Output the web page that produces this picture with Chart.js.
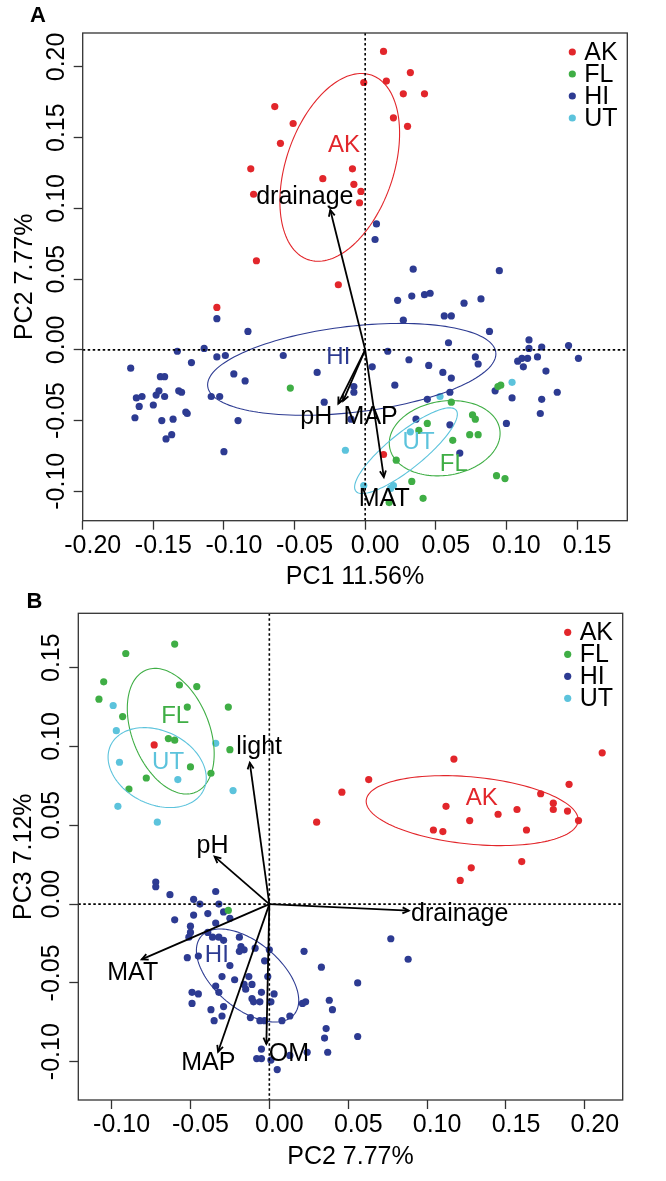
<!DOCTYPE html>
<html lang="en">
<head>
  <meta charset="UTF-8" />
  <title>PCA biplots</title>
  <script src="https://cdn.jsdelivr.net/npm/chart.js"></script>
  <style>
    body { margin: 0; background: #fff; }
    canvas { display: block; }
  </style>
</head>
<body>
  <canvas id="chartA" width="666" height="590"></canvas>
  <canvas id="chartB" width="666" height="591"></canvas>

  <script>
    const groups = ['AK', 'FL', 'HI', 'UT'];

    // ---- Panel A: PC1 vs PC2 ----
    const xTicksA = [-0.20, -0.15, -0.10, -0.05, 0.00, 0.05, 0.10, 0.15];
    const yTicksA = [-0.10, -0.05, 0.00, 0.05, 0.10, 0.15, 0.20];

    const akA_x = [0.013, 0.032, -0.001, 0.015, 0.027, 0.042, -0.064, -0.051, 0.020, 0.030, -0.060, -0.081, -0.009, -0.030, -0.008, -0.003, -0.079, -0.004, -0.077, -0.019, -0.105, 0.013];
    const akA_y = [0.211, 0.196, 0.189, 0.190, 0.181, 0.181, 0.172, 0.160, 0.164, 0.158, 0.146, 0.128, 0.128, 0.121, 0.117, 0.112, 0.110, 0.104, 0.063, 0.046, 0.030, -0.074];
    const flA_x = [-0.053, 0.094, 0.096, 0.061, 0.076, 0.078, 0.044, 0.038, 0.074, 0.080, 0.062, 0.022, 0.093, 0.099, 0.033, 0.041, 0.017];
    const flA_y = [-0.027, -0.026, -0.025, -0.037, -0.046, -0.049, -0.052, -0.057, -0.060, -0.060, -0.064, -0.078, -0.089, -0.091, -0.093, -0.105, -0.108];
    const hiA_x = [0.008, 0.007, 0.034, 0.095, 0.023, 0.033, 0.042, 0.046, 0.070, 0.082, 0.027, 0.056, 0.061, 0.088, 0.059, 0.116, 0.116, 0.125, 0.144, 0.151, 0.108, 0.111, 0.115, 0.122, 0.112, 0.128, 0.078, 0.080, 0.045, 0.055, 0.061, 0.031, 0.016, 0.005, 0.021, 0.060, 0.044, 0.092, 0.104, 0.136, 0.125, 0.124, 0.100, 0.060, 0.036, 0.067, -0.008, -0.008, -0.010, -0.029, -0.034, -0.058, -0.085, -0.093, -0.083, -0.105, -0.105, -0.099, -0.114, -0.133, -0.123, -0.109, -0.103, -0.090, -0.100, -0.166, -0.162, -0.158, -0.160, -0.163, -0.150, -0.148, -0.146, -0.145, -0.142, -0.142, -0.132, -0.130, -0.127, -0.126, -0.144, -0.136, -0.141, -0.137];
    const hiA_y = [0.089, 0.078, 0.057, 0.056, 0.035, 0.038, 0.039, 0.040, 0.033, 0.036, 0.021, 0.024, 0.024, 0.013, 0.005, 0.007, 0.001, 0.002, 0.003, -0.006, -0.008, -0.006, -0.006, -0.005, -0.012, -0.015, -0.005, -0.010, -0.011, -0.016, -0.020, -0.007, -0.001, -0.012, -0.025, -0.030, -0.035, -0.029, -0.034, -0.030, -0.035, -0.045, -0.052, -0.053, -0.049, -0.073, -0.026, -0.030, -0.049, -0.037, -0.016, -0.004, -0.022, -0.017, 0.013, 0.022, -0.005, -0.004, 0.001, -0.001, -0.009, -0.033, -0.033, -0.050, -0.072, -0.013, -0.034, -0.033, -0.040, -0.048, -0.039, -0.032, -0.029, -0.019, -0.019, -0.033, -0.029, -0.030, -0.044, -0.045, -0.050, -0.049, -0.063, -0.060];
    const utA_x = [0.104, 0.053, 0.032, -0.014, -0.001, 0.020, 0.018];
    const utA_y = [-0.023, -0.033, -0.058, -0.071, -0.096, -0.096, -0.098];

    // ellipse: centre x, centre y, semi-major, semi-minor, angle (deg) — order AK, FL, HI, UT
    const ellipsesA = [[-0.018, 0.129, 0.069, 0.038, 71], [0.0563, -0.0625, 0.0395, 0.0262, 9], [-0.0095, -0.0138, 0.1027, 0.0304, 6.7], [0.0289, -0.0713, 0.0456, 0.0127, 38.9]];
    const groupLabelsA = [[-0.015, 0.1445], [0.0628, -0.081], [-0.019, -0.0054], [0.0378, -0.0655]];

    const envNamesA = ['drainage', 'pH', 'MAP', 'MAT'];
    const envTipsA = [[-0.0247, 0.0989], [-0.019, -0.038], [-0.0156, -0.0361], [0.0132, -0.090]];
    const envLabelPosA = [[-0.0427, 0.1079], [-0.0346, -0.0475], [0.0039, -0.0475], [0.0135, -0.1054]];

    // ---- Panel B: PC2 vs PC3 ----
    const xTicksB = [-0.10, -0.05, 0.00, 0.05, 0.10, 0.15, 0.20];
    const yTicksB = [-0.10, -0.05, 0.00, 0.05, 0.10, 0.15];

    const akB_x = [-0.073, 0.211, 0.117, 0.063, 0.190, 0.046, 0.172, 0.180, 0.180, 0.112, 0.157, 0.145, 0.189, 0.127, 0.196, 0.030, 0.104, 0.110, 0.163, 0.160, 0.128, 0.121];
    const akB_y = [0.101, 0.096, 0.092, 0.079, 0.076, 0.071, 0.070, 0.064, 0.060, 0.062, 0.060, 0.057, 0.059, 0.053, 0.053, 0.052, 0.047, 0.046, 0.047, 0.027, 0.023, 0.015];
    const flB_x = [-0.060, -0.091, -0.105, -0.108, -0.057, -0.046, -0.052, -0.026, -0.093, -0.064, -0.060, -0.025, -0.050, -0.037, -0.078, -0.089, -0.026];
    const flB_y = [0.165, 0.159, 0.141, 0.130, 0.139, 0.138, 0.125, 0.125, 0.119, 0.105, 0.104, 0.098, 0.087, 0.083, 0.080, 0.073, -0.004];
    const hiB_x = [-0.072, -0.072, -0.063, -0.048, -0.044, -0.034, -0.032, -0.039, -0.048, -0.029, -0.025, -0.060, -0.050, -0.034, -0.050, -0.051, -0.039, -0.036, -0.032, -0.029, -0.019, -0.018, -0.016, -0.019, -0.009, 0.000, 0.022, -0.052, -0.045, -0.025, 0.033, -0.003, -0.030, -0.022, -0.013, -0.001, -0.034, -0.016, -0.015, -0.011, 0.056, -0.049, -0.045, -0.032, -0.005, 0.003, -0.011, -0.010, -0.006, 0.001, 0.021, 0.023, 0.038, 0.040, -0.049, -0.029, -0.037, -0.030, -0.035, -0.012, -0.006, -0.003, 0.008, 0.013, 0.036, 0.035, 0.056, -0.005, 0.037, 0.024, 0.013, -0.008, -0.005, 0.001, 0.005, 0.077, 0.088];
    const hiB_y = [0.014, 0.011, 0.006, 0.003, 0.000, 0.008, 0.000, -0.006, -0.007, -0.005, -0.009, -0.010, -0.014, -0.012, -0.018, -0.021, -0.018, -0.021, -0.021, -0.023, -0.021, -0.027, -0.029, -0.030, -0.028, -0.029, -0.030, -0.034, -0.033, -0.039, -0.040, -0.036, -0.046, -0.048, -0.046, -0.046, -0.052, -0.051, -0.054, -0.051, -0.050, -0.056, -0.057, -0.056, -0.056, -0.057, -0.060, -0.062, -0.062, -0.062, -0.063, -0.062, -0.061, -0.067, -0.063, -0.065, -0.067, -0.071, -0.074, -0.072, -0.074, -0.074, -0.074, -0.071, -0.079, -0.085, -0.084, -0.092, -0.094, -0.094, -0.096, -0.098, -0.098, -0.099, -0.105, -0.022, -0.035];
    const utB_x = [-0.099, -0.097, -0.034, -0.095, -0.058, -0.023, -0.096, -0.071];
    const utB_y = [0.126, 0.110, 0.102, 0.090, 0.079, 0.072, 0.062, 0.052];

    const ellipsesB = [[0.1286, 0.0593, 0.0675, 0.0213, -5.6], [-0.0625, 0.1097, 0.0418, 0.0245, -68.2], [-0.0138, -0.0453, 0.0385, 0.021, -40], [-0.0711, 0.0866, 0.0327, 0.0233, -25.9]];
    const groupLabelsB = [[0.1347, 0.0671], [-0.0597, 0.1189], [-0.0333, -0.0328], [-0.0642, 0.0897]];

    const envNamesB = ['light', 'pH', 'drainage', 'MAT', 'MAP', 'OM'];
    const envTipsB = [[-0.0124, 0.0897], [-0.0347, 0.0301], [0.0884, -0.0042], [-0.0809, -0.0351], [-0.0325, -0.0937], [-0.0019, -0.0888]];
    const envLabelPosB = [[-0.0065, 0.0995], [-0.036, 0.0369], [0.1207, -0.0066], [-0.0866, -0.0436], [-0.0387, -0.1006], [0.0124, -0.0953]];

    // ---- styles ----
    const groupColors = ['#E2262B', '#3FAE45', '#2D3B92', '#5CC3DC'];
    const FONT = '"Liberation Sans", Arial, Helvetica, sans-serif';
    const W = 666;

    function drawArrow(ctx, x0, y0, x1, y1) {
      ctx.beginPath();
      ctx.moveTo(x0, y0);
      ctx.lineTo(x1, y1);
      ctx.stroke();
      const ang = Math.atan2(y1 - y0, x1 - x0), L = 7, sp = Math.PI / 7;
      ctx.beginPath();
      ctx.moveTo(x1 - L * Math.cos(ang - sp), y1 - L * Math.sin(ang - sp));
      ctx.lineTo(x1, y1);
      ctx.lineTo(x1 - L * Math.cos(ang + sp), y1 - L * Math.sin(ang + sp));
      ctx.stroke();
    }

    function biplotPlugin(p) {
      return {
        id: 'biplot',
        afterDatasetsDraw(chart) {
          const { ctx, chartArea: ca, scales: { x, y } } = chart;
          const px = v => x.getPixelForValue(v);
          const py = v => y.getPixelForValue(v);
          ctx.save();

          // confidence ellipses
          p.ellipses.forEach((e, i) => {
            const [cx, cy, a, b, deg] = e;
            const th = deg * Math.PI / 180;
            ctx.beginPath();
            for (let k = 0; k <= 144; k++) {
              const t = k / 144 * 2 * Math.PI;
              const dx = a * Math.cos(t) * Math.cos(th) - b * Math.sin(t) * Math.sin(th);
              const dy = a * Math.cos(t) * Math.sin(th) + b * Math.sin(t) * Math.cos(th);
              if (k === 0) ctx.moveTo(px(cx + dx), py(cy + dy));
              else ctx.lineTo(px(cx + dx), py(cy + dy));
            }
            ctx.strokeStyle = groupColors[i];
            ctx.lineWidth = 1.1;
            ctx.stroke();
          });

          // dotted zero lines
          ctx.setLineDash([2.5, 2.5]);
          ctx.strokeStyle = '#000';
          ctx.lineWidth = 1.6;
          ctx.beginPath();
          ctx.moveTo(ca.left, py(0)); ctx.lineTo(ca.right, py(0));
          ctx.moveTo(px(0), ca.top); ctx.lineTo(px(0), ca.bottom);
          ctx.stroke();
          ctx.setLineDash([]);

          // environmental vectors
          ctx.lineWidth = 1.8;
          p.envTips.forEach(t => drawArrow(ctx, px(0), py(0), px(t[0]), py(t[1])));

          ctx.textAlign = 'center';
          ctx.textBaseline = 'middle';
          ctx.font = '25px ' + FONT;
          ctx.fillStyle = '#000';
          p.envNames.forEach((n, i) => ctx.fillText(n, px(p.envLabelPos[i][0]), py(p.envLabelPos[i][1])));

          // group names at ellipses
          ctx.font = '24px ' + FONT;
          groups.forEach((g, i) => {
            ctx.fillStyle = groupColors[i];
            ctx.fillText(g, px(p.groupLabels[i][0]), py(p.groupLabels[i][1]));
          });

          // legend, top right inside the box
          ctx.textAlign = 'left';
          ctx.font = '25px ' + FONT;
          groups.forEach((g, i) => {
            const ly = ca.top + 19 + i * 22;
            ctx.fillStyle = groupColors[i];
            ctx.beginPath();
            ctx.arc(ca.right - 55, ly, 3.6, 0, 2 * Math.PI);
            ctx.fill();
            ctx.fillStyle = '#000';
            ctx.fillText(g, ca.right - 43, ly + 1);
          });

          // box
          ctx.strokeStyle = '#333';
          ctx.lineWidth = 1.3;
          ctx.strokeRect(ca.left, ca.top, ca.right - ca.left, ca.bottom - ca.top);

          // y tick labels, parallel to the axis
          ctx.fillStyle = '#000';
          ctx.font = '25px ' + FONT;
          ctx.textAlign = 'center';
          p.yTicks.forEach(v => {
            ctx.save();
            ctx.translate(ca.left - 26, py(v) - 10);
            ctx.rotate(-Math.PI / 2);
            ctx.fillText(v.toFixed(2), 0, 0);
            ctx.restore();
          });

          // panel letter
          ctx.font = 'bold 22px ' + FONT;
          ctx.fillText(p.letter, p.letterPos[0], p.letterPos[1]);
          ctx.restore();
        }
      };
    }

    function buildChart(id, p) {
      const canvas = document.getElementById(id);
      const H = canvas.height;
      const datasets = groups.map((g, i) => ({
        label: g,
        data: p.xs[i].map((v, k) => ({ x: v, y: p.ys[i][k] })),
        backgroundColor: groupColors[i],
        borderWidth: 0,
        pointRadius: 3.6,
        pointHoverRadius: 3.6
      }));
      return new Chart(canvas, {
        type: 'scatter',
        data: { datasets },
        options: {
          responsive: false,
          animation: false,
          events: [],
          layout: { padding: { top: p.box.top, right: W - p.box.right, left: 0, bottom: 0 } },
          plugins: { legend: { display: false }, tooltip: { enabled: false } },
          scales: {
            x: {
              type: 'linear',
              min: p.xRange[0],
              max: p.xRange[1],
              afterBuildTicks: s => { s.ticks = p.xTicks.map(v => ({ value: v })); },
              afterFit: s => { s.height = H - p.box.bottom; },
              border: { display: false },
              grid: { drawOnChartArea: false, drawTicks: true, tickLength: 9, tickWidth: 1.3, tickColor: '#333' },
              ticks: {
                color: '#000', autoSkip: false, maxRotation: 0, minRotation: 0,
                padding: 4, labelOffset: 10,
                font: { family: FONT, size: 25, lineHeight: 1 },
                callback: v => Number(v).toFixed(2)
              },
              title: {
                display: true, text: p.xTitle, color: '#000',
                font: { family: FONT, size: 25, lineHeight: 1 },
                padding: { top: 0, bottom: p.xTitlePad }
              }
            },
            y: {
              type: 'linear',
              min: p.yRange[0],
              max: p.yRange[1],
              afterBuildTicks: s => { s.ticks = p.yTicks.map(v => ({ value: v })); },
              afterFit: s => { s.width = p.box.left; },
              border: { display: false },
              grid: { drawOnChartArea: false, drawTicks: true, tickLength: 9, tickWidth: 1.3, tickColor: '#333' },
              ticks: { display: false },
              title: {
                display: true, text: p.yTitle, color: '#000',
                font: { family: FONT, size: 25, lineHeight: 1 },
                padding: { top: p.yTitlePad, bottom: 0 }
              }
            }
          }
        },
        plugins: [biplotPlugin(p)]
      });
    }

    buildChart('chartA', {
      xs: [akA_x, flA_x, hiA_x, utA_x],
      ys: [akA_y, flA_y, hiA_y, utA_y],
      xTicks: xTicksA, yTicks: yTicksA,
      xRange: [-0.2, 0.1856], yRange: [-0.1208, 0.224],
      box: { left: 82.7, top: 33, right: 627.3, bottom: 520.7 },
      xTitle: 'PC1 11.56%', yTitle: 'PC2 7.77%',
      xTitlePad: 0, yTitlePad: 13,
      ellipses: ellipsesA, groupLabels: groupLabelsA,
      envNames: envNamesA, envTips: envTipsA, envLabelPos: envLabelPosA,
      letter: 'A', letterPos: [38, 16]
    });

    buildChart('chartB', {
      xs: [akB_x, flB_x, hiB_x, utB_x],
      ys: [akB_y, flB_y, hiB_y, utB_y],
      xTicks: xTicksB, yTicks: yTicksB,
      xRange: [-0.1211, 0.224], yRange: [-0.1243, 0.1845],
      box: { left: 78.3, top: 23.3, right: 622.7, bottom: 510 },
      xTitle: 'PC2 7.77%', yTitle: 'PC3 7.12%',
      xTitlePad: 11, yTitlePad: 11.5,
      ellipses: ellipsesB, groupLabels: groupLabelsB,
      envNames: envNamesB, envTips: envTipsB, envLabelPos: envLabelPosB,
      letter: 'B', letterPos: [34.5, 12]
    });
  </script>
</body>
</html>
